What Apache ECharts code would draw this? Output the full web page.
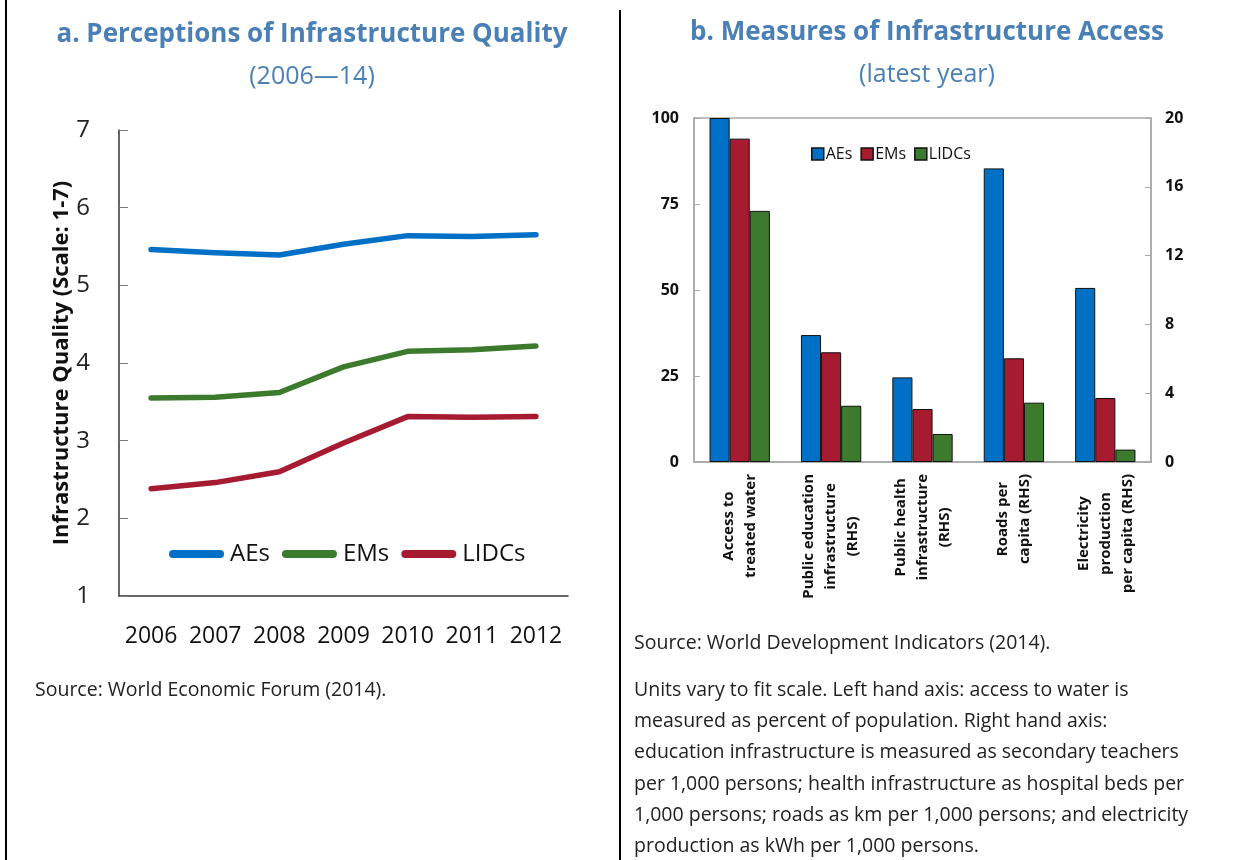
<!DOCTYPE html>
<html>
<head>
<meta charset="utf-8">
<script src="https://cdn.jsdelivr.net/npm/echarts@6/dist/echarts.min.js"></script>
<style>
  html, body { margin: 0; padding: 0; background: #fff; }
  #main { width: 1233px; height: 860px; }
</style>
</head>
<body>
<div id="main"></div>
<script>
// panel a: perceptions of infrastructure quality
const years = ['2006', '2007', '2008', '2009', '2010', '2011', '2012'];
const aesQuality = [5.46, 5.42, 5.39, 5.53, 5.64, 5.63, 5.65];
const emsQuality = [3.55, 3.56, 3.62, 3.95, 4.15, 4.17, 4.22];
const lidcsQuality = [2.38, 2.46, 2.60, 2.97, 3.31, 3.30, 3.31];
const qualityTicks = [1, 7, 1]; // min, max, interval

// panel b: measures of infrastructure access
const accessCats = [
  'Access to\ntreated water',
  'Public education\ninfrastructure\n(RHS)',
  'Public health\ninfrastructure\n(RHS)',
  'Roads per\ncapita (RHS)',
  'Electricity\nproduction\nper capita (RHS)'
];
// left hand axis (first category only)
const aesLhs = [100];
const emsLhs = [94];
const lidcsLhs = [73];
// right hand axis (the other four categories)
const aesRhs = [7.38, 4.92, 17.07, 10.12];
const emsRhs = [6.38, 3.08, 6.03, 3.72];
const lidcsRhs = [3.27, 1.63, 3.45, 0.72];
const lhsTicks = [0, 100, 25];
const rhsTicks = [0, 20, 4];

const FONT = '"Open Sans", "Noto Sans", sans-serif';
const BLUE = '#0070C6';
const GREEN = '#3C7A2D';
const RED = '#A61B30';
const TITLE_COLOR = '#4A80B5';

const chart = echarts.init(document.getElementById('main'));

function lhsData(vals) {
  return accessCats.map((c, i) => (i < vals.length ? vals[i] : '-'));
}
function rhsData(vals) {
  return accessCats.map((c, i) => (i === 0 ? '-' : vals[i - 1]));
}

const lineSeries = [
  ['AEs', aesQuality, BLUE],
  ['EMs', emsQuality, GREEN],
  ['LIDCs', lidcsQuality, RED]
].map(([name, data, color]) => ({
  name: name,
  type: 'line',
  xAxisIndex: 0,
  yAxisIndex: 0,
  data: data,
  color: color,
  symbol: 'none',
  lineStyle: { width: 5.5, color: color, cap: 'round', join: 'round' }
}));

// the lhs and rhs halves of a group share one stack so they use the same bar slot
const barGroups = [
  ['AEs bar', aesLhs, aesRhs, BLUE],
  ['EMs bar', emsLhs, emsRhs, RED],
  ['LIDCs bar', lidcsLhs, lidcsRhs, GREEN]
];
const barSeries = [];
barGroups.forEach(([name, lhs, rhs, color]) => {
  const common = {
    name: name,
    type: 'bar',
    xAxisIndex: 1,
    stack: name,
    color: color,
    barCategoryGap: '34%',
    barGap: '0%',
    itemStyle: { color: color, borderColor: '#111', borderWidth: 1 }
  };
  barSeries.push(Object.assign({}, common, { yAxisIndex: 1, data: lhsData(lhs) }));
  barSeries.push(Object.assign({}, common, { yAxisIndex: 2, data: rhsData(rhs) }));
});

const notes = [
  'Units vary to fit scale. Left hand axis: access to water is',
  'measured as percent of population. Right hand axis:',
  'education infrastructure is measured as secondary teachers',
  'per 1,000 persons; health infrastructure as hospital beds per',
  '1,000 persons; roads as km per 1,000 persons; and electricity',
  'production as kWh per 1,000 persons.'
];

const option = {
  animation: false,
  backgroundColor: '#fff',
  textStyle: { fontFamily: FONT },
  title: [
    {
      text: 'a. Perceptions of Infrastructure Quality',
      subtext: '(2006\u201414)',
      left: 307, top: 17, textAlign: 'center', itemGap: 16,
      textStyle: { fontFamily: FONT, fontSize: 26, fontWeight: 'bold', color: TITLE_COLOR },
      subtextStyle: { fontFamily: FONT, fontSize: 25, color: TITLE_COLOR }
    },
    {
      text: 'b. Measures of Infrastructure Access',
      subtext: '(latest year)',
      left: 922, top: 15, textAlign: 'center', itemGap: 16,
      textStyle: { fontFamily: FONT, fontSize: 26, fontWeight: 'bold', color: TITLE_COLOR },
      subtextStyle: { fontFamily: FONT, fontSize: 25, color: TITLE_COLOR }
    }
  ],
  legend: [
    {
      data: ['AEs', 'EMs', 'LIDCs'],
      left: 164, top: 537,
      orient: 'horizontal',
      icon: 'path://M4 0H51A4 4 0 0 1 51 8H4A4 4 0 0 1 4 0Z',
      itemWidth: 55, itemHeight: 8, itemGap: 12,
      textStyle: { fontFamily: FONT, fontSize: 24, color: '#111', padding: [0, 0, 0, 1] }
    },
    {
      data: ['AEs bar', 'EMs bar', 'LIDCs bar'],
      left: 806, top: 141,
      icon: 'rect',
      itemWidth: 12, itemHeight: 12, itemGap: 8,
      itemStyle: { borderColor: '#111', borderWidth: 1.5 },
      formatter: name => name.replace(' bar', ''),
      textStyle: { fontFamily: FONT, fontSize: 16, color: '#111', padding: [0, 0, 0, -3] }
    }
  ],
  grid: [
    { left: 119, top: 130, width: 449, height: 466 },
    {
      left: 694, top: 118, width: 457, height: 344,
      show: true, borderColor: '#A8A8A8', borderWidth: 1.5, backgroundColor: 'transparent'
    }
  ],
  xAxis: [
    {
      gridIndex: 0,
      type: 'category',
      data: years,
      boundaryGap: true,
      axisLine: { lineStyle: { color: '#333', width: 1.5 } },
      axisTick: { inside: true, length: 10, interval: 0, lineStyle: { color: '#333' } },
      axisLabel: { fontFamily: FONT, fontSize: 23, color: '#111', margin: 29, interval: 0 }
    },
    {
      gridIndex: 1,
      type: 'category',
      data: accessCats,
      boundaryGap: true,
      axisLine: { lineStyle: { color: '#A8A8A8', width: 1.5 } },
      axisTick: { inside: true, length: 6, interval: 0, lineStyle: { color: '#A8A8A8' } },
      axisLabel: {
        rotate: 90, interval: 0, margin: 12,
        formatter: v => '{c|' + v + '}',
        rich: {
          c: { align: 'center', fontFamily: FONT, fontSize: 15, fontWeight: 'bold', color: '#111', lineHeight: 22 }
        }
      }
    }
  ],
  yAxis: [
    {
      gridIndex: 0,
      type: 'value',
      min: qualityTicks[0], max: qualityTicks[1], interval: qualityTicks[2],
      name: 'Infrastructure Quality (Scale: 1-7)',
      nameLocation: 'middle', nameGap: 46,
      nameTextStyle: { fontFamily: FONT, fontSize: 22, fontWeight: 'bold', color: '#111' },
      axisLine: { show: true, lineStyle: { color: '#333', width: 1.5 } },
      axisTick: { show: true, inside: true, length: 9, lineStyle: { color: '#777' } },
      splitLine: { show: false },
      axisLabel: { fontFamily: FONT, fontSize: 24, color: '#222', margin: 29 }
    },
    {
      gridIndex: 1,
      type: 'value',
      position: 'left',
      min: lhsTicks[0], max: lhsTicks[1], interval: lhsTicks[2],
      axisLine: { show: true, lineStyle: { color: '#A8A8A8', width: 1.5 } },
      axisTick: { show: true, inside: true, length: 6, lineStyle: { color: '#A8A8A8' } },
      splitLine: { show: false },
      axisLabel: { fontFamily: FONT, fontSize: 16, fontWeight: 'bold', color: '#111', margin: 15 }
    },
    {
      gridIndex: 1,
      type: 'value',
      position: 'right',
      min: rhsTicks[0], max: rhsTicks[1], interval: rhsTicks[2],
      axisLine: { show: true, lineStyle: { color: '#A8A8A8', width: 1.5 } },
      axisTick: { show: true, inside: true, length: 6, lineStyle: { color: '#A8A8A8' } },
      splitLine: { show: false },
      axisLabel: { fontFamily: FONT, fontSize: 16, fontWeight: 'bold', color: '#111', margin: 14 }
    }
  ],
  graphic: [
    { type: 'line', shape: { x1: 6, y1: 0, x2: 6, y2: 860 }, style: { stroke: '#000', lineWidth: 2 } },
    { type: 'line', shape: { x1: 620, y1: 10, x2: 620, y2: 860 }, style: { stroke: '#000', lineWidth: 2 } },
    {
      type: 'text', x: 35, y: 690,
      style: { text: 'Source: World Economic Forum (2014).', font: '19.5px ' + FONT, fill: '#222', verticalAlign: 'middle' }
    },
    {
      type: 'text', x: 634, y: 643,
      style: { text: 'Source: World Development Indicators (2014).', font: '19.5px ' + FONT, fill: '#222', verticalAlign: 'middle' }
    },
    {
      type: 'text', x: 634, y: 674.5,
      style: { text: notes.join('\n'), font: '19.5px ' + FONT, lineHeight: 31.3, fill: '#222', verticalAlign: 'top' }
    }
  ],
  series: lineSeries.concat(barSeries)
};

chart.setOption(option);
</script>
</body>
</html>
